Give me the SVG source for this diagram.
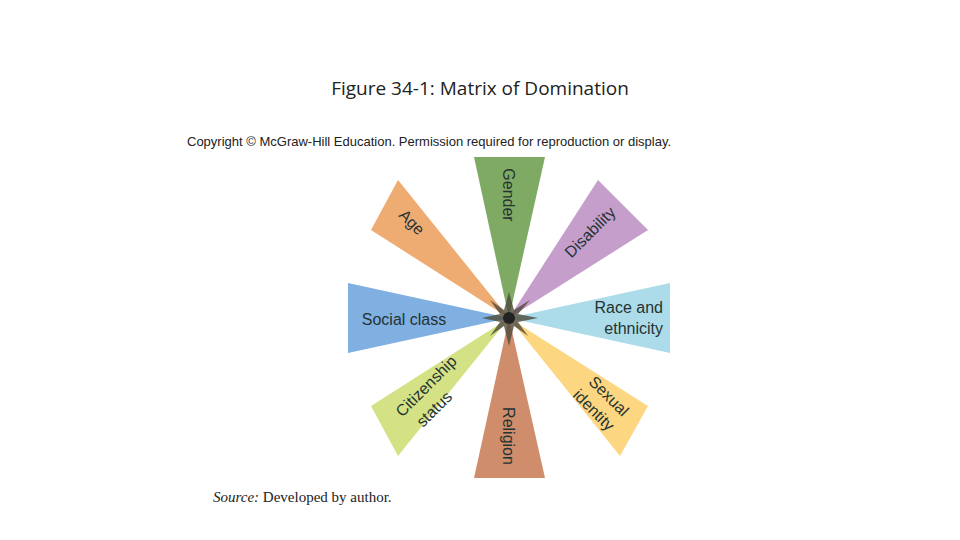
<svg xmlns="http://www.w3.org/2000/svg" width="960" height="540" viewBox="0 0 960 540">
<style>
.t{font-family:"Liberation Sans",Arial,sans-serif;font-size:16px;fill:#243333}
.w{opacity:0.95}
</style>
<rect width="960" height="540" fill="#fff"/>
<text x="480" y="95" text-anchor="middle" font-family="Open Sans, sans-serif" font-size="19" fill="#222">Figure 34-1: Matrix of Domination</text>
<text x="187" y="146" font-family="Liberation Sans, Arial, sans-serif" font-size="13" fill="#222">Copyright © McGraw-Hill Education. Permission required for reproduction or display.</text>
<g id="wedges">
<g id="gender"><polygon class="w" points="474,157 545,157 509,318" fill="#78a55c"/><text class="t" transform="translate(503,195) rotate(90)" text-anchor="middle">Gender</text></g>
<g id="religion"><polygon class="w" points="474,478 545,478 509,318" fill="#cc8763"/><text class="t" transform="translate(503,436) rotate(90)" text-anchor="middle">Religion</text></g>
<g id="social"><polygon class="w" points="348,283 348,353 509,318" fill="#79abe0"/><text class="t" x="404" y="325" text-anchor="middle">Social class</text></g>
<g id="race"><polygon class="w" points="670,283 670,353 509,318" fill="#a8dae8"/><text class="t" x="663" y="313" text-anchor="end">Race and</text><text class="t" x="663" y="334" text-anchor="end">ethnicity</text></g>
<g id="age"><polygon class="w" points="371,230 398,180 509,318" fill="#eda66a"/><text class="t" transform="translate(408,226) rotate(45)" text-anchor="middle">Age</text></g>
<g id="disability"><polygon class="w" points="598,180 648,230 509,318" fill="#c299c9"/><text class="t" transform="translate(594,236) rotate(-45)" text-anchor="middle">Disability</text></g>
<g id="citizenship"><polygon class="w" points="371,406 398,456 509,318" fill="#d2e07e"/><text class="t" transform="translate(430,390) rotate(-45)" text-anchor="middle">Citizenship</text><text class="t" transform="translate(438,413) rotate(-45)" text-anchor="middle">status</text></g>
<g id="sexual"><polygon class="w" points="620,456 648,406 509,318" fill="#fdd47a"/><text class="t" transform="translate(605,400) rotate(45)" text-anchor="middle">Sexual</text><text class="t" transform="translate(590,414) rotate(45)" text-anchor="middle">identity</text></g>
</g>
<g id="center"><polygon points="509,292 514,310 530,300 518,314 538,318 518,322 528,336 514,326 509,346 504,326 490,336 500,322 482,318 500,314 490,300 504,310" fill="#4d4a3a" opacity="0.8"/><circle cx="509" cy="318" r="6" fill="#222"/></g>
<text x="213" y="502" font-family="Liberation Serif, serif" font-size="15" fill="#222"><tspan font-style="italic">Source:</tspan> Developed by author.</text>
</svg>
